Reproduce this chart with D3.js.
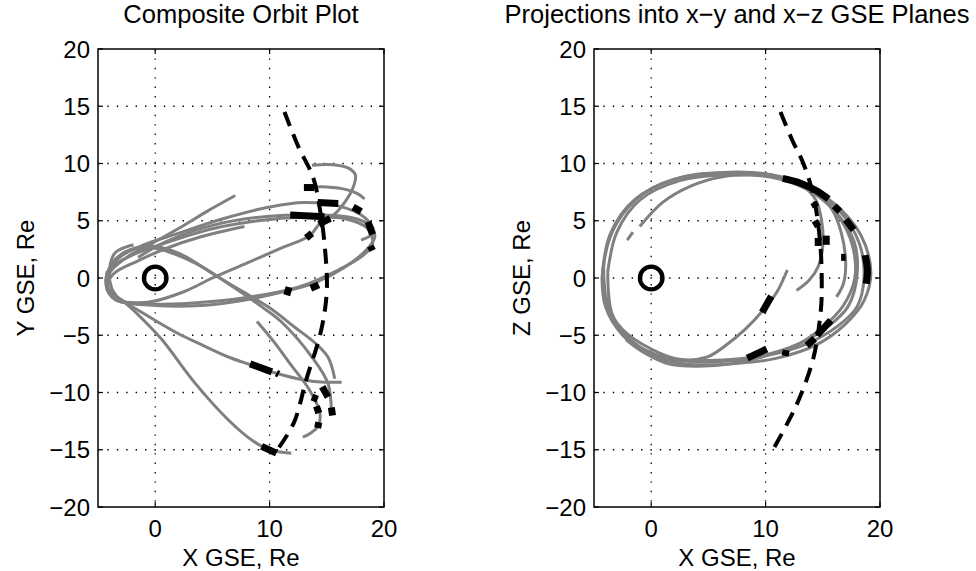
<!DOCTYPE html>
<html>
<head>
<meta charset="utf-8">
<script src="https://cdn.jsdelivr.net/npm/d3@7"></script>
<style>
  html, body { margin: 0; padding: 0; background: #fff; }
  svg text { font-family: "Liberation Sans", Arial, Helvetica, sans-serif; fill: #000; }
</style>
</head>
<body>
<svg id="chart" width="976" height="571"></svg>
<script>
// ---------- data (GSE coordinates in Re) ----------
const xTicks = [0, 10, 20];
const yTicks = [-20, -15, -10, -5, 0, 5, 10, 15, 20];
const gridX = [0, 10];
const gridY = [-15, -10, -5, 0, 5, 10, 15];
const titles = ["Composite Orbit Plot", "Projections into x\u2212y and x\u2212z GSE Planes"];
const xLabels = ["X GSE, Re", "X GSE, Re"];
const yLabels = ["Y GSE, Re", "Z GSE, Re"];

// X-Y plane orbit tracks (gray)
const xyOrbits = [
  [[-2.0,-2.4],[-3.7,-1.5],[-4.3,0.0],[-3.4,1.6],[-1.2,2.8],[2,3.9],[6,5.2],[10,6.2],[13,6.6],[16,6.3],[18.3,5.3],[19.1,4.0],[18.0,3.3]],
  [[7.8,4.5],[4,3.6],[1,2.6],[-1.5,1.5],[-3.7,0.3],[-4.2,-1.0],[-3,-2.0],[0,-2.4],[4,-2.4],[8,-1.9],[11.6,-1.1],[14,-0.4],[16.5,0.9],[18.4,2.4],[19.2,3.6],[18.6,4.7],[17,5.3],[14,5.5],[10,5.4],[5,4.6],[1,3.2],[-1.5,1.8]],
  [[-0.5,-2.3],[-3.5,-1.9],[-4.3,-0.6],[-3.8,0.9],[-2,2.0],[1,3.1],[5,4.3],[9,5.0],[13,5.3],[16.5,5.2],[18.6,4.3],[19.0,3.0],[18.2,2.0],[16,0.7],[12.5,-0.8],[8,-1.7],[3,-2.2],[-0.5,-2.3]],
  [[7.0,7.2],[4.5,5.8],[2,4.3],[-0.5,2.9],[-2.5,1.8],[-4.0,0.4],[-4.0,-1.2],[-2.6,-2.2],[-1,-3.7],[0.6,-5.4],[3.5,-9.2],[6.4,-12.4],[8.5,-14.2],[10,-15.0],[11.9,-15.3]],
  [[-4.2,0.6],[-4.1,-0.9],[-2.8,-2.0],[-1,-3.1],[2,-4.85],[4,-5.8],[6.4,-6.9],[8.4,-7.6],[10.5,-8.3],[13,-8.9],[14.8,-9.1],[16.3,-9.1]],
  [[-4.3,-0.3],[-3.6,1.5],[-1.8,2.6],[0,2.6],[3.5,1.3],[6.4,-0.5],[9.3,-2.5],[11,-3.8],[13.7,-6.9],[15.1,-9.2],[15.4,-11.8]],
  [[-4.0,0.8],[-2.6,2.2],[-0.5,2.8],[2,2.2],[5,0.4],[7.5,-1.1],[10,-2.6],[12.2,-4.3],[14,-5.7],[15.1,-6.9],[15.7,-8.8]],
  [[8.9,-3.8],[10.4,-5.6],[11.8,-7.5],[13.5,-9.8],[14.4,-11.8],[14.2,-13.0],[13.5,-13.6],[12.9,-13.9]],
  [[-3.0,-2.1],[-0.5,-2.1],[2.5,-1.2],[5,0.0],[8,1.3],[11,2.6],[13.5,3.7],[14.5,4.9],[15.7,5.6],[16.7,6.8],[17.3,7.9],[17.5,9.0],[16.9,9.6],[15.5,9.9],[13.7,9.85]],
  [[13.0,7.9],[15,7.95],[16.8,7.7],[17.8,7.3],[18.3,6.9]],
  [[-1.9,2.9],[-3.5,2.2],[-4.0,0.7],[-3.8,-0.9],[-3.2,-1.8]]
];
// X-Y plane highlighted (black) track pieces
const xyHighlights = [
  [[11.8,5.5],[14.8,5.35]],
  [[13.0,7.9],[13.9,7.9]],
  [[14.2,6.6],[16.0,6.5]],
  [[14.3,4.7],[15.3,5.2]],
  [[17.3,6.2],[18.0,5.8]],
  [[18.6,4.9],[19.0,3.8]],
  [[18.8,2.8],[19.0,2.4]],
  [[13.2,3.5],[13.7,3.9]],
  [[11.5,-1.5],[11.7,-0.8]],
  [[13.6,-0.9],[14.3,-0.6]],
  [[8.3,-7.5],[10.2,-8.2]],
  [[10.6,-8.3],[10.8,-8.4]],
  [[9.3,-14.7],[10.6,-15.3]],
  [[14.6,-9.5],[15.1,-10.4]],
  [[15.4,-11.3],[15.5,-12.0]],
  [[13.7,-10.4],[14.2,-10.6]],
  [[14.1,-11.2],[14.3,-11.8]],
  [[14.3,-12.6],[14.2,-13.1]]
];
// X-Y plane boundary (dashed)
const xyBoundary = [[11.3,14.5],[12.5,11.5],[13.8,8.8],[14.4,6.0],[14.8,3.0],[15.0,-1.1],[14.5,-4.6],[13.2,-8.9],[12.1,-12.7],[10.6,-15.1]];

// X-Z plane orbit tracks (gray)
const xzOrbits = [
  [[-4.3,0],[-3.6,3.8],[-1.5,6.8],[2,8.6],[6,9.2],[10,9.1],[13,8.3],[16,6.5],[18.3,3.8],[19.2,0.5],[18.6,-2],[17,-4],[14.5,-5.8],[11,-7],[7,-7.5],[3,-7.5],[0,-6.8],[-2.5,-5.0],[-4,-2.5],[-4.3,0]],
  [[-4.0,-1.5],[-4.1,1.5],[-3.0,4.8],[-0.5,7.5],[3,8.9],[7,9.2],[11,8.9],[14,7.7],[16.5,5.8],[18.2,3.0],[18.6,0],[18,-2.5],[16.3,-4.2],[13.5,-5.8],[10,-6.8],[6,-7.3],[2,-7.1],[-1,-6.0],[-3,-4.0],[-4.0,-1.5]],
  [[-3.8,0.5],[-3,4],[-1,6.8],[2.5,8.5],[6.5,9.0],[10.5,8.8],[13.5,7.8],[16,5.9],[17.7,3.3],[18.0,0.3],[17.2,-2.5],[15.5,-4.2],[13,-5.7],[9.5,-6.8],[5,-7.2],[1,-7.0],[-1.8,-5.6],[-3.4,-3.2],[-3.8,0.5]],
  [[-1.0,4.5],[1,6.6],[3.4,8.0],[6,8.8],[9,9.0],[11.5,8.7],[13.3,8.0],[14.4,6.8],[14.9,5.0],[15.0,2.8],[14.6,1.0],[13.8,-0.2],[12.7,-1.1]],
  [[-1.6,4.0],[-2.1,3.3]],
  [[12,8.6],[14.5,7.5],[15.8,6.0],[16.6,4.0],[17,1.5],[16.8,-0.5],[16.2,-1.65]],
  [[-2.2,-5.4],[-0.5,-6.6],[1.5,-7.5],[4,-7.7],[7,-7.5],[10,-6.8],[13,-5.7],[15,-4.3],[16.8,-2.4],[17.8,0],[17.6,2.8],[16.5,5.2],[14.5,7.3],[12,8.6]],
  [[-4.2,1.0],[-4.0,-2.0],[-2.5,-4.5],[0,-6.2],[2.5,-7.1],[4.9,-6.9],[6.5,-5.9],[8.3,-4.4],[9.8,-2.8],[11,-1.2],[11.9,0.7]]
];
// X-Z plane highlighted (black) track pieces
const xzHighlights = [
  [[11.5,8.7],[13,8.3],[14.5,7.6],[15.5,6.9]],
  [[16.0,6.3],[16.5,5.8]],
  [[17.0,5.1],[17.7,4.2]],
  [[18.7,2.0],[18.9,0.7],[18.8,-0.5]],
  [[14.2,6.6],[14.4,6.2]],
  [[14.3,5.0],[14.6,4.5]],
  [[14.6,3.5],[14.6,2.8]],
  [[15.3,3.7],[15.3,2.9]],
  [[16.6,1.8],[17.0,1.8]],
  [[9.7,-3.0],[10.5,-1.6]],
  [[8.4,-7.0],[10.1,-6.2]],
  [[11.7,-6.8],[11.8,-6.3]],
  [[13.6,-5.9],[14.3,-5.3]],
  [[14.5,-5.0],[15.7,-3.7]]
];
// X-Z plane boundary (dashed)
const xzBoundary = [[11.3,14.5],[12.3,12.1],[13.3,10.0],[14.2,7.1],[14.8,2.7],[14.9,-1.6],[14.8,-3.1],[14.2,-6.9],[13.0,-10.4],[11.9,-12.7],[10.7,-14.9]];

const earth = [[0, 0]];

// ---------- drawing ----------
const svg = d3.select("#chart");
const FONT = 24;
const TITLE_FONT = 25.5;
const panels = [
  { left: 98, right: 384, orbits: xyOrbits, highlights: xyHighlights, boundary: xyBoundary, labelX: 34 },
  { left: 594, right: 880, orbits: xzOrbits, highlights: xzHighlights, boundary: xzBoundary, labelX: 530 }
];
const yTop = 49, yBottom = 507;

panels.forEach((p, i) => {
  const x = d3.scaleLinear().domain([-5, 20]).range([p.left, p.right]);
  const y = d3.scaleLinear().domain([-20, 20]).range([yBottom, yTop]);
  const g = svg.append("g");

  // grid (dotted)
  g.selectAll(".gx").data(gridX).join("line")
    .attr("x1", d => x(d)).attr("x2", d => x(d)).attr("y1", yTop).attr("y2", yBottom)
    .attr("stroke", "#000").attr("stroke-width", 1.3).attr("stroke-dasharray", "1.4,8");
  g.selectAll(".gy").data(gridY).join("line")
    .attr("x1", p.left).attr("x2", p.right).attr("y1", d => y(d)).attr("y2", d => y(d))
    .attr("stroke", "#000").attr("stroke-width", 1.3).attr("stroke-dasharray", "1.4,8");

  const line = d3.line().x(d => x(d[0])).y(d => y(d[1])).curve(d3.curveCatmullRom.alpha(0.5));

  g.append("g").selectAll("path").data(p.orbits).join("path")
    .attr("d", line).attr("fill", "none").attr("stroke", "#808080")
    .attr("stroke-width", 3).attr("stroke-linejoin", "round");

  g.append("g").selectAll("path").data(p.highlights).join("path")
    .attr("d", line).attr("fill", "none").attr("stroke", "#000")
    .attr("stroke-width", 7).attr("stroke-linecap", "butt");

  g.append("path").datum(p.boundary).attr("d", line)
    .attr("fill", "none").attr("stroke", "#000").attr("stroke-width", 4)
    .attr("stroke-dasharray", "15,9");

  g.selectAll(".earth").data(earth).join("circle")
    .attr("cx", d => x(d[0])).attr("cy", d => y(d[1])).attr("r", 11.3)
    .attr("fill", "none").attr("stroke", "#000").attr("stroke-width", 4.3);

  // axes box and inward ticks
  const tl = 5;
  g.append("rect").attr("x", p.left).attr("y", yTop).attr("width", p.right - p.left).attr("height", yBottom - yTop)
    .attr("fill", "none").attr("stroke", "#000").attr("stroke-width", 1.5);
  g.selectAll(".tyl").data(yTicks).join("line")
    .attr("x1", p.left).attr("x2", p.left + tl).attr("y1", d => y(d)).attr("y2", d => y(d))
    .attr("stroke", "#000").attr("stroke-width", 1.2);
  g.selectAll(".tyr").data(yTicks).join("line")
    .attr("x1", p.right).attr("x2", p.right - tl).attr("y1", d => y(d)).attr("y2", d => y(d))
    .attr("stroke", "#000").attr("stroke-width", 1.2);
  g.selectAll(".txb").data(xTicks).join("line")
    .attr("x1", d => x(d)).attr("x2", d => x(d)).attr("y1", yBottom).attr("y2", yBottom - tl)
    .attr("stroke", "#000").attr("stroke-width", 1.2);
  g.selectAll(".txt").data(xTicks).join("line")
    .attr("x1", d => x(d)).attr("x2", d => x(d)).attr("y1", yTop).attr("y2", yTop + tl)
    .attr("stroke", "#000").attr("stroke-width", 1.2);

  // tick labels
  const fmt = d => (d < 0 ? "\u2212" + Math.abs(d) : String(d));
  g.selectAll(".yl").data(yTicks).join("text")
    .attr("x", p.left - 8).attr("y", d => y(d)).attr("dy", "0.36em")
    .attr("text-anchor", "end").attr("font-size", FONT).text(fmt);
  g.selectAll(".xl").data(xTicks).join("text")
    .attr("x", d => x(d)).attr("y", 537)
    .attr("text-anchor", "middle").attr("font-size", FONT).text(fmt);

  // axis labels and title
  g.append("text").attr("x", (p.left + p.right) / 2).attr("y", 566)
    .attr("text-anchor", "middle").attr("font-size", FONT).text(xLabels[i]);
  g.append("text").attr("transform", `translate(${p.labelX},${(yTop + yBottom) / 2}) rotate(-90)`)
    .attr("text-anchor", "middle").attr("font-size", FONT).text(yLabels[i]);
  g.append("text").attr("x", (p.left + p.right) / 2).attr("y", 23)
    .attr("text-anchor", "middle").attr("font-size", TITLE_FONT).text(titles[i]);
});
</script>
</body>
</html>
